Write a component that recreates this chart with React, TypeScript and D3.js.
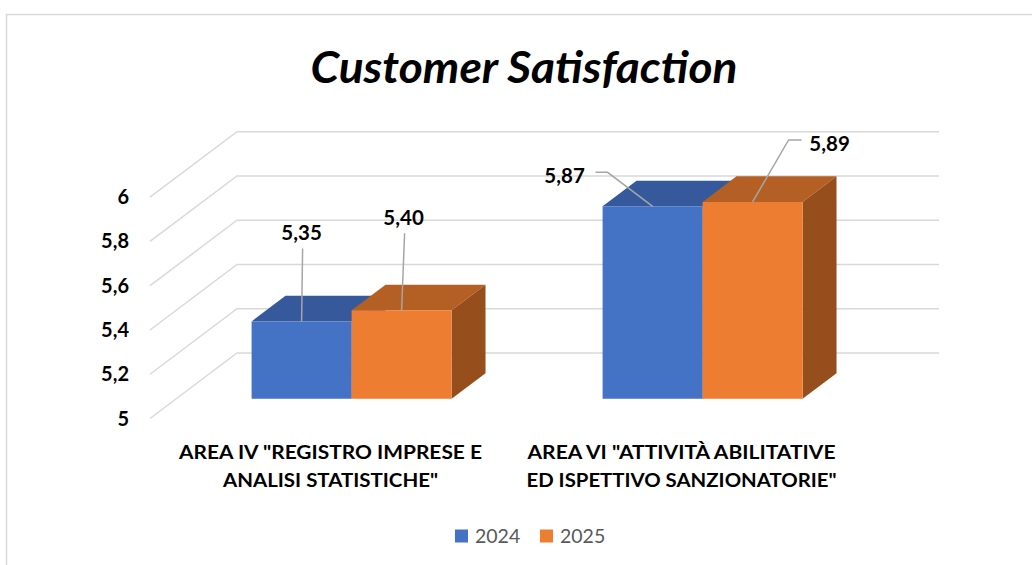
import React, { useRef, useEffect } from 'react';
import * as d3 from 'd3';

const categories = ['AREA IV', 'AREA VI'];
const categoryLines = [
    ['AREA IV "REGISTRO IMPRESE E', 'ANALISI STATISTICHE"'],
    ['AREA VI "ATTIVITÀ ABILITATIVE', 'ED ISPETTIVO SANZIONATORIE"'],
];
const series = ['2024', '2025'];
const values2024 = [5.35, 5.87];
const values2025 = [5.40, 5.89];
const yTicks = [5, 5.2, 5.4, 5.6, 5.8, 6];
const tickLabels = ['5', '5,2', '5,4', '5,6', '5,8', '6'];

const W = 1032;
const H = 565;
const FONT = 'Lato, "Open Sans", sans-serif';

// oblique projection: depth d = 0 on the back wall, 1 at the front edge of the floor
const DEPTH_X = -87;
const DEPTH_Y = 65.5;
const BAR_FRONT = 0.7;
const BAR_BACK = 0.31;

const front = { '2024': '#4472C4', '2025': '#ED7D31' } as Record<string, string>;
const top = { '2024': '#35599A', '2025': '#B45F24' } as Record<string, string>;
const side = { '2024': '#2E4E87', '2025': '#974E1D' } as Record<string, string>;

// where each data label sits relative to the top-front centre of its bar
const labelPlace = [
    [{ dx: 0, dy: -89, leader: 'down' }, { dx: 2, dy: -93, leader: 'down' }],
    [{ dx: -88, dy: -31, leader: 'right' }, { dx: 77, dy: -58, leader: 'left' }],
];

const App: React.FC = () => {
    const ref = useRef<SVGSVGElement>(null);

    useEffect(() => {
        if (!ref.current) return;
        const svg = d3.select(ref.current);
        svg.selectAll('*').remove();

        const y = d3.scaleLinear().domain([5, 6]).range([353, 131.7]);
        const x0 = d3.scaleBand<string>().domain(categories).range([237, 939]);
        const x1 = d3.scaleBand<string>().domain(series)
            .range([0, x0.bandwidth()]).paddingInner(0).paddingOuter(0.755);

        const proj = (x: number, v: number, d: number): [number, number] =>
            [x + DEPTH_X * d, y(v) + DEPTH_Y * d];
        const poly = (pts: [number, number][]) => 'M' + pts.map(p => p.join(',')).join('L') + 'Z';

        // frame
        svg.append('rect')
            .attr('x', 6.5).attr('y', 14.5).attr('width', W).attr('height', H)
            .attr('fill', 'none').attr('stroke', '#D9D9D9').attr('stroke-width', 1.5);

        // title
        svg.append('text')
            .attr('x', 524).attr('y', 83)
            .attr('text-anchor', 'middle')
            .attr('font-family', FONT).attr('font-weight', 700).attr('font-style', 'italic')
            .attr('font-size', 44)
            .attr('textLength', 427).attr('lengthAdjust', 'spacingAndGlyphs')
            .text('Customer Satisfaction');

        // back wall gridlines and floor/side diagonals
        const grid = svg.append('g').attr('stroke', '#D9D9D9').attr('stroke-width', 1.5).attr('fill', 'none');
        yTicks.forEach(t => {
            const [bx, by] = proj(237, t, 0);
            const [fx, fy] = proj(237, t, 1);
            grid.append('path').attr('d', `M${939},${by}L${bx},${by}L${fx},${fy}`);
        });

        // tick labels
        svg.append('g').selectAll('text').data(yTicks).enter().append('text')
            .attr('x', 129)
            .attr('y', t => proj(237, t, 1)[1] + 7)
            .attr('text-anchor', 'end')
            .attr('font-family', FONT).attr('font-weight', 700).attr('font-size', 20)
            .attr('fill', '#000')
            .text((t, i) => tickLabels[i]);

        // bars
        const valuesBySeries = [values2024, values2025];
        const bars = svg.append('g');
        categories.forEach((c, ci) => {
            series.forEach((s, si) => {
                const v = valuesBySeries[si][ci];
                const xa = (x0(c) as number) + (x1(s) as number);
                const xb = xa + x1.bandwidth();
                bars.append('path').attr('fill', top[s])
                    .attr('d', poly([proj(xa, v, BAR_FRONT), proj(xb, v, BAR_FRONT), proj(xb, v, BAR_BACK), proj(xa, v, BAR_BACK)]));
                bars.append('path').attr('fill', side[s])
                    .attr('d', poly([proj(xb, 5, BAR_FRONT), proj(xb, v, BAR_FRONT), proj(xb, v, BAR_BACK), proj(xb, 5, BAR_BACK)]));
                bars.append('path').attr('fill', front[s])
                    .attr('d', poly([proj(xa, 5, BAR_FRONT), proj(xb, 5, BAR_FRONT), proj(xb, v, BAR_FRONT), proj(xa, v, BAR_FRONT)]));
            });
        });

        // data labels with leader lines
        const labels = svg.append('g');
        categories.forEach((c, ci) => {
            series.forEach((s, si) => {
                const v = valuesBySeries[si][ci];
                const xa = (x0(c) as number) + (x1(s) as number);
                const [ax, ay] = proj(xa + x1.bandwidth() / 2, v, BAR_FRONT);
                const p = labelPlace[ci][si];
                const lx = ax + p.dx;
                const ly = ay + p.dy;
                let d = '';
                if (p.leader === 'down') d = `M${lx + 1},${ly + 16}L${ax},${ay}`;
                if (p.leader === 'right') d = `M${lx + 31},${ly - 3}L${lx + 43},${ly - 3}L${ax},${ay}`;
                if (p.leader === 'left') d = `M${lx - 28},${ly - 4}L${lx - 41},${ly - 4}L${ax},${ay}`;
                labels.append('path').attr('d', d)
                    .attr('fill', 'none').attr('stroke', '#A6A6A6').attr('stroke-width', 1.5);
                labels.append('text')
                    .attr('x', lx).attr('y', ly + 7.5)
                    .attr('text-anchor', 'middle')
                    .attr('font-family', FONT).attr('font-weight', 700).attr('font-size', 20.5)
                    .attr('fill', '#000')
                    .text(d3.format('.2f')(v).replace('.', ','));
            });
        });

        // category labels
        const catWidths = [[303, 215], [308, 310]];
        categories.forEach((c, ci) => {
            const cx = proj((x0(c) as number) + x0.bandwidth() / 2, 5, 1)[0] + 5;
            categoryLines[ci].forEach((line, li) => {
                svg.append('text')
                    .attr('x', cx).attr('y', 459 + li * 28)
                    .attr('text-anchor', 'middle')
                    .attr('font-family', FONT).attr('font-weight', 700).attr('font-size', 19)
                    .attr('textLength', catWidths[ci][li]).attr('lengthAdjust', 'spacingAndGlyphs')
                    .attr('fill', '#000')
                    .text(line);
            });
        });

        // legend
        const legend = svg.append('g');
        const legendX = [455, 540];
        series.forEach((s, si) => {
            legend.append('rect')
                .attr('x', legendX[si]).attr('y', 529.5).attr('width', 13).attr('height', 13)
                .attr('fill', front[s]);
            legend.append('text')
                .attr('x', legendX[si] + 20).attr('y', 543)
                .attr('font-family', FONT).attr('font-size', 19.5).attr('fill', '#595959')
                .text(s);
        });
    }, []);

    return (
        <svg ref={ref} width={W} height={H}
            style={{ position: 'absolute', left: 0, top: 0, background: '#fff' }} />
    );
};

export default App;
